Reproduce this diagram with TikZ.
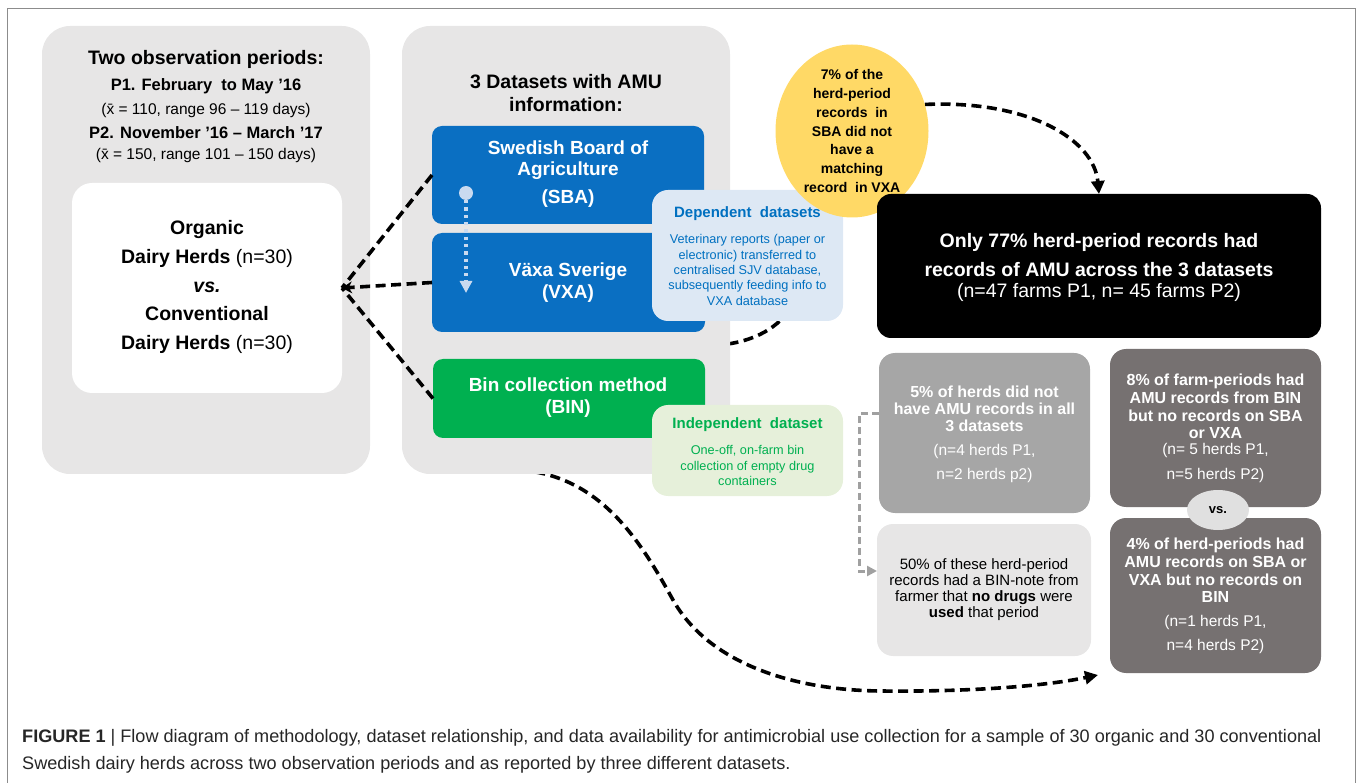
\documentclass[tikz,border=0pt]{standalone}
\usepackage{fontspec}
\setmainfont{Liberation Sans}
\usetikzlibrary{fit,arrows.meta,shapes.geometric}
\definecolor{panelgray}{HTML}{E7E6E6}
\definecolor{sbablue}{HTML}{0A6FC2}
\definecolor{bingreen}{HTML}{00B050}
\definecolor{deplight}{HTML}{DDE8F4}
\definecolor{deptext}{HTML}{0070C0}
\definecolor{indlight}{HTML}{E6F0DA}
\definecolor{indtext}{HTML}{00B050}
\definecolor{yel}{HTML}{FFD966}
\definecolor{midgray}{HTML}{A6A6A6}
\definecolor{darkgraybox}{HTML}{767171}
\definecolor{lightbox}{HTML}{E7E6E6}
\definecolor{vsgray}{HTML}{E0E0E0}
\definecolor{dotblue}{HTML}{C9DAF0}
\definecolor{elbowgray}{HTML}{A0A0A0}
\newcommand\fs[2]{\fontsize{#1}{#2}\selectfont}
\begin{document}
\begin{tikzpicture}[x=1pt,y=-1pt,
  area/.style={inner sep=0pt, outer sep=0pt, draw=none},
  txt/.style={inner sep=0pt, align=center},
  dashline/.style={draw=black, line width=3.6pt, dash pattern=on 10pt off 5.5pt},
  tipbig/.style={-{Triangle[length=13pt,width=13pt]}},
]
\useasboundingbox (0,0) rectangle (1358,783);
\draw[black!45, line width=0.9pt] (7,783) -- (7,8) -- (1355,8) -- (1355,783);

% connectors partly hidden behind panels
\coordinate (hidA) at (814,206);
\coordinate (hidB) at (720,345);
\draw[dashline] (hidA) .. controls (815,290) and (790,338) .. (hidB);
\coordinate (bigstart) at (520,470);
\coordinate (bigend) at (1098,675);
\draw[dashline, tipbig] (bigstart) .. controls (600,476) and (640,540) .. (673,600)
  .. controls (708,662) and (790,690) .. (880,691)
  .. controls (980,692) and (1050,685) .. (bigend);

% panels
\node[area, fill=panelgray, rounded corners=28pt, fit={(42,26) (370,474)}] (leftpanel) {};
\node[area, fill=white, rounded corners=20pt, fit={(72,183) (342,393)}] (herdbox) {};
\node[area, fill=panelgray, rounded corners=28pt, fit={(402,26) (730,474)}] (midpanel) {};

% dataset boxes
\node[area, fill=sbablue, rounded corners=10pt, fit={(432,126) (704,224)}] (sba) {};
\node[area, fill=sbablue, rounded corners=10pt, fit={(432,233) (705,332)}] (vxa) {};
\node[area, fill=bingreen, rounded corners=10pt, fit={(433,359) (705,438)}] (bin) {};

% dotted SBA -> VXA
\node[circle, fill=dotblue, minimum size=14pt, inner sep=0pt] (dotstart) at (466,193) {};
\coordinate (dotend) at (466,293);
\draw[dotblue, line width=3.3pt, dash pattern=on 3.3pt off 4pt, -{Triangle[length=12pt,width=12pt]}] (dotstart) -- (dotend);

% converging dashed lines
\draw[dashline] (sba.west) -- (herdbox.east);
\draw[dashline] (bin.west) -- (herdbox.east);
\draw[dashline, -{Stealth[length=10pt,width=12pt]}] (vxa.west) -- (herdbox.east);

% side boxes
\node[area, fill=deplight, rounded corners=16pt, fit={(652,190) (843,321)}] (dep) {};
\node[area, fill=indlight, rounded corners=16pt, fit={(652,405) (843,496)}] (ind) {};

% yellow ellipse
\node[ellipse, fill=yel, minimum width=153pt, minimum height=173pt, inner sep=0pt] (yel) at (852,131) {};

% black box
\node[area, fill=black, rounded corners=14pt, fit={(877,194) (1321,338)}] (blackbox) {};
\draw[dashline, tipbig] (yel.20) .. controls (1030,100) and (1094,140) .. (blackbox.north);

% bottom right boxes
\node[area, fill=midgray, rounded corners=16pt, fit={(879,353) (1090,513)}] (fivep) {};
\node[area, fill=lightbox, rounded corners=16pt, fit={(877,524) (1091,656)}] (fiftyp) {};
\node[area, fill=darkgraybox, rounded corners=16pt, fit={(1110,349) (1321,507)}] (eightp) {};
\node[area, fill=darkgraybox, rounded corners=16pt, fit={(1110,518) (1321,673)}] (fourp) {};
\node[ellipse, fill=vsgray, minimum width=62pt, minimum height=40pt, inner sep=0pt] (vs) at (1218,510) {};

\coordinate (elA) at (879,414);
\coordinate (elB) at (877,571);
\draw[elbowgray, line width=3pt, dash pattern=on 7pt off 4pt, -{Triangle[length=10pt,width=10pt]}] (elA) -- ++(-20,0) |- (elB);

% ---------- texts ----------
\node[txt, font=\fs{19.5}{23}\bfseries] (lt1) at (206,59) {Two observation periods:};
\node[txt, font=\fs{16.5}{20}\bfseries] (lt2) at (206,86) {P1. February\ \ to May ’16};
\node[txt, font=\fs{15.5}{19}] (lt3) at (206,110) {(x̄ = 110, range 96 – 119 days)};
\node[txt, font=\fs{16.5}{20}\bfseries] (lt4) at (206,133) {P2. November ’16 – March ’17};
\node[txt, font=\fs{15.5}{19}] (lt5) at (206,155) {(x̄ = 150, range 101 – 150 days)};

\node[txt, font=\fs{19.5}{28.7}] (herdt) at (207,287) {\textbf{Organic}\\\textbf{Dairy Herds} (n=30)\\\textbf{\textit{vs.}}\\\textbf{Conventional}\\\textbf{Dairy Herds} (n=30)};

\node[txt, font=\fs{19.5}{22.5}\bfseries] (midt) at (566,93) {3 Datasets with AMU\\information:};
\node[txt, font=\fs{19}{21.5}\bfseries, text=white] (sbat) at (568,174) {Swedish Board of\\Agriculture\\[6pt](SBA)};
\node[txt, font=\fs{19}{21.5}\bfseries, text=white] (vxat) at (568,282.5) {Växa Sverige\\(VXA)};
\node[txt, font=\fs{19}{21.5}\bfseries, text=white] (bint) at (568,397.5) {Bin collection method\\(BIN)};

\node[txt, font=\fs{15}{18}\bfseries, text=deptext] (dept1) at (747.5,214) {Dependent\ \ datasets};
\node[txt, font=\fs{12.7}{15.3}, text=deptext] (dept2) at (747.5,270) {Veterinary reports (paper or\\electronic) transferred to\\centralised SJV database,\\subsequently feeding info to\\VXA database};
\node[txt, font=\fs{15}{18}\bfseries, text=indtext] (indt1) at (747.5,425) {Independent\ \ dataset};
\node[txt, font=\fs{12.7}{15.3}, text=indtext] (indt2) at (747.5,465.5) {One-off, on-farm bin\\collection of empty drug\\containers};

\node[txt, font=\fs{14}{18.7}\bfseries] (yelt) at (852,131) {7\% of the\\herd-period\\records\ \ in\\SBA did not\\have a\\matching\\record\ \ in VXA};

\node[txt, font=\fs{19.5}{29}\bfseries, text=white] (bt1) at (1099,255.5) {Only 77\% herd-period records had\\records of AMU across the 3 datasets};
\node[txt, font=\fs{19.5}{22}, text=white] (bt2) at (1099,292) {(n=47 farms P1, n= 45 farms P2)};

\node[txt, font=\fs{16}{17}\bfseries, text=white] (fivet1) at (984.5,409) {5\% of herds did not\\have AMU records in all\\3 datasets};
\node[txt, font=\fs{15.5}{24}, text=white] (fivet2) at (984.5,463) {(n=4 herds P1,\\n=2 herds p2)};

\node[txt, font=\fs{15}{16}] (fiftyt) at (984,590) {50\% of these herd-period\\records had a BIN-note from\\farmer that \textbf{no drugs} were\\\textbf{used} that period};

\node[txt, font=\fs{16}{17.7}\bfseries, text=white] (eightt1) at (1215.5,406.5) {8\% of farm-periods had\\AMU records from BIN\\but no records on SBA\\or VXA};
\node[txt, font=\fs{15.5}{25}, text=white] (eightt2) at (1215.5,462.5) {(n= 5 herds P1,\\n=5 herds P2)};

\node[txt, font=\fs{13}{15}\bfseries] (vst) at (vs) {vs.};

\node[txt, font=\fs{16}{17.7}\bfseries, text=white] (fourt1) at (1215.5,570.5) {4\% of herd-periods had\\AMU records on SBA or\\VXA but no records on\\BIN};
\node[txt, font=\fs{15.5}{24}, text=white] (fourt2) at (1215.5,634) {(n=1 herds P1,\\n=4 herds P2)};

% caption
\node[txt, anchor=west, font=\fs{18.1}{21}, text=black!85] (cap1) at (22,738) {\textbf{FIGURE 1} | Flow diagram of methodology, dataset relationship, and data availability for antimicrobial use collection for a sample of 30 organic and 30 conventional};
\node[txt, anchor=west, font=\fs{18.1}{21}, text=black!85] (cap2) at (22,765) {Swedish dairy herds across two observation periods and as reported by three different datasets.};
\end{tikzpicture}
\end{document}
